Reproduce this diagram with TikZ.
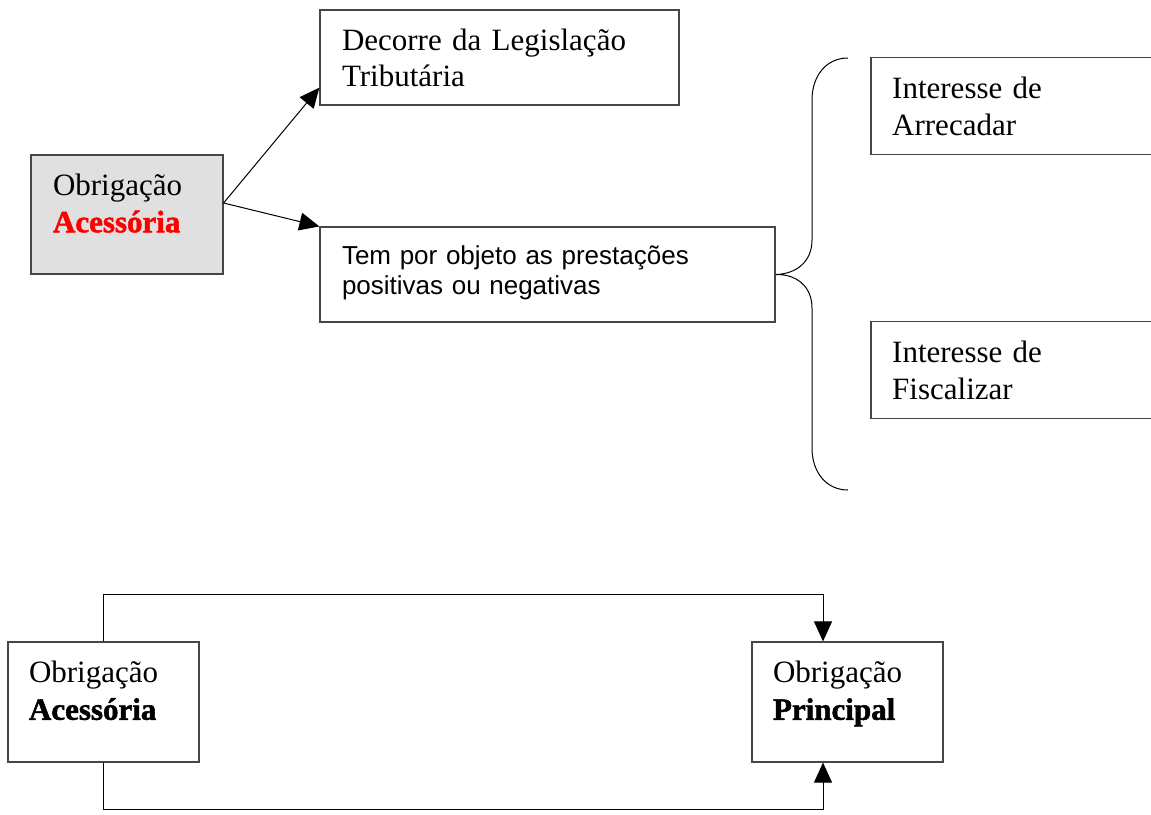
\documentclass[tikz,border=0pt]{standalone}
\usepackage{fontspec}
\setmainfont{Liberation Serif}
\newfontfamily\arialfont{Liberation Sans}
\newfontfamily\heavyserif{Liberation Serif}[BoldFeatures={FakeBold=1.6}]
\usetikzlibrary{arrows.meta}
\definecolor{boxgray}{RGB}{224,224,224}
\definecolor{edgegray}{RGB}{70,70,70}
\newcommand{\heavytext}[1]{{\heavyserif\bfseries #1}}
\begin{document}
\begin{tikzpicture}[x=1pt,y=-1pt,
  box/.style={rectangle, draw=edgegray, line width=1.2pt, inner xsep=22pt, inner ysep=0pt,
    align=left, font=\fontsize{31}{36}\selectfont},
  openbox/.style={rectangle, draw=none, inner xsep=21pt, inner ysep=0pt,
    align=left, font=\fontsize{31}{37}\selectfont, anchor=west},
  conn/.style={draw=black, line width=1pt},
  tip/.style={-{Triangle[length=20pt,width=18pt]}},
  brace/.style={draw=black, line width=1pt}
]
\useasboundingbox (0,0) rectangle (1151,814);

% top part
\node[box, fill=boxgray, text width=148pt, minimum height=119pt] (g) at (127,214.5)
  {Obrigação\\[1pt] \textcolor{red}{\heavytext{Acessória}}\\[-13pt]\mbox{}};
\node[box, text width=315pt, minimum height=95pt] (dec) at (499.5,57.5)
  {Decorre da Legislação\\ Tributária};
\node[box, text width=411pt, minimum height=95pt,
  font=\arialfont\fontsize{26}{30}\selectfont] (tem) at (547.5,274.5)
  {Tem por objeto as prestações\\ positivas ou negativas\\[-22pt]\mbox{}};

\node[openbox, text width=238pt, minimum height=96pt, minimum width=280pt] (arr) at (871,106)
  {Interesse de\\ Arrecadar};
\node[openbox, text width=238pt, minimum height=96pt, minimum width=280pt] (fis) at (871,370)
  {Interesse de\\ Fiscalizar};
\draw[draw=edgegray, line width=1.2pt] (arr.north east) -- (arr.north west) -- (arr.south west) -- (arr.south east);
\draw[draw=edgegray, line width=1.2pt] (fis.north east) -- (fis.north west) -- (fis.south west) -- (fis.south east);

\draw[conn, tip] ([yshift=11.5pt]g.east) -- ([yshift=18pt]dec.south west);
\draw[conn, tip] ([yshift=11.5pt]g.east) -- (tem.north west);

% brace
\coordinate (bt) at (848,58);
\coordinate (bb) at (848,490);
\draw[brace] (bt) .. controls (826,58) and (812,76) .. (812,100) -- (812,240)
  .. controls (812,262) and (796,274) .. (tem.east)
  .. controls (796,274) and (812,286) .. (812,308) -- (812,448)
  .. controls (812,472) and (826,490) .. (bb);

% bottom part
\node[box, text width=149pt, minimum height=120pt, inner xsep=21pt] (acc) at (103.5,702)
  {Obrigação\\[1pt] \heavytext{Acessória}\\[-13pt]\mbox{}};
\node[box, text width=149pt, minimum height=120pt, inner xsep=21pt] (pri) at (847.5,702)
  {Obrigação\\[1pt] \heavytext{Principal}\\[-13pt]\mbox{}};

\draw[conn, tip] (acc.north) -- ++(0,-47) -| ([xshift=-24.5pt]pri.north);
\draw[conn, tip] (acc.south) -- ++(0,47) -| ([xshift=-24.5pt]pri.south);
\end{tikzpicture}
\end{document}
